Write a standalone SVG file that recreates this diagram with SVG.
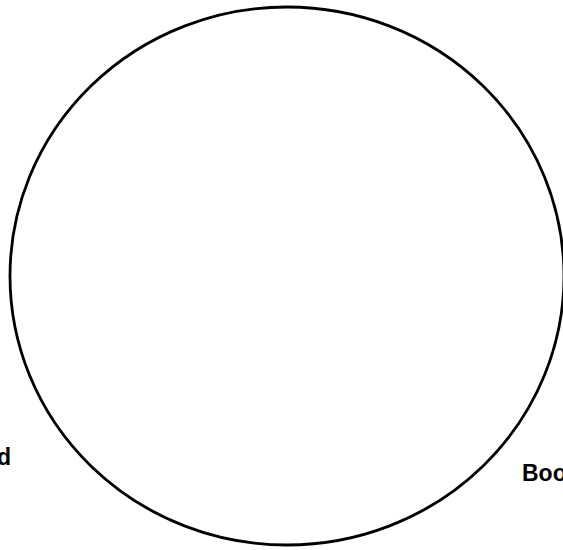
<svg xmlns="http://www.w3.org/2000/svg" width="563" height="550" viewBox="0 0 563 550">
<style>
.lbl{font-family:"Liberation Sans",Arial,sans-serif;font-weight:bold;font-size:23px;fill:#000}
</style>
<rect width="563" height="550" fill="#fff"/>
<g id="circle">
<ellipse cx="287" cy="276" rx="277" ry="269" fill="none" stroke="#000" stroke-width="2.8"/>
</g>
<g id="labels">
<text class="lbl" x="-3" y="465">d</text>
<text class="lbl" x="522" y="481">Boo</text>
</g>
</svg>
